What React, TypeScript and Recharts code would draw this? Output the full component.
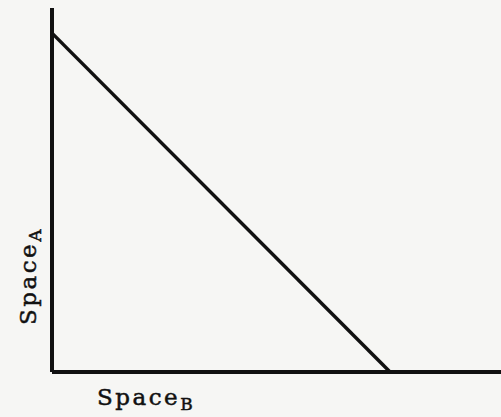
import React from 'react'
import { LineChart, Line, XAxis, YAxis, Label } from 'recharts'

// trade-off line between the two spaces
const spaceB = [0, 75.3]
const spaceA = [93.1, 0]

const data = spaceB.map((b, i) => ({ b, a: spaceA[i] }))

const INK = '#111'
const FONT = '"DejaVu Serif", serif'

const XLabel = ({ viewBox }: any) => (
  <text
    x={viewBox.x + 45}
    y={viewBox.y + 33}
    fill={INK}
    stroke={INK}
    strokeWidth={0.5}
    fontFamily={FONT}
    fontSize={23}
    letterSpacing={2.5}
  >
    Space
    <tspan fontSize={17} dy={5}>B</tspan>
  </text>
)

const YLabel = ({ viewBox }: any) => {
  const x = 36
  const y = viewBox.y + 268
  return (
    <text
      x={x}
      y={y}
      transform={`rotate(-90, ${x}, ${y})`}
      textAnchor="middle"
      fill={INK}
      stroke={INK}
      strokeWidth={0.5}
      fontFamily={FONT}
      fontSize={23}
      letterSpacing={2.5}
    >
      Space
      <tspan fontSize={17} dy={5}>A</tspan>
    </text>
  )
}

export default function App() {
  return (
    <div style={{ position: 'absolute', left: 0, top: 0, width: 501, height: 417, background: '#f6f6f4' }}>
      <LineChart width={501} height={417} data={data} margin={{ top: 8, right: 0, left: 0, bottom: 0 }}>
        <XAxis
          type="number"
          dataKey="b"
          domain={[0, 100]}
          height={45}
          tick={false}
          tickLine={false}
          axisLine={{ stroke: INK, strokeWidth: 4 }}
        >
          <Label content={<XLabel />} />
        </XAxis>
        <YAxis
          type="number"
          domain={[0, 100]}
          width={52}
          tick={false}
          tickLine={false}
          axisLine={{ stroke: INK, strokeWidth: 4 }}
        >
          <Label content={<YLabel />} />
        </YAxis>
        <Line dataKey="a" type="linear" stroke={INK} strokeWidth={3.5} dot={false} isAnimationActive={false} />
      </LineChart>
    </div>
  )
}
